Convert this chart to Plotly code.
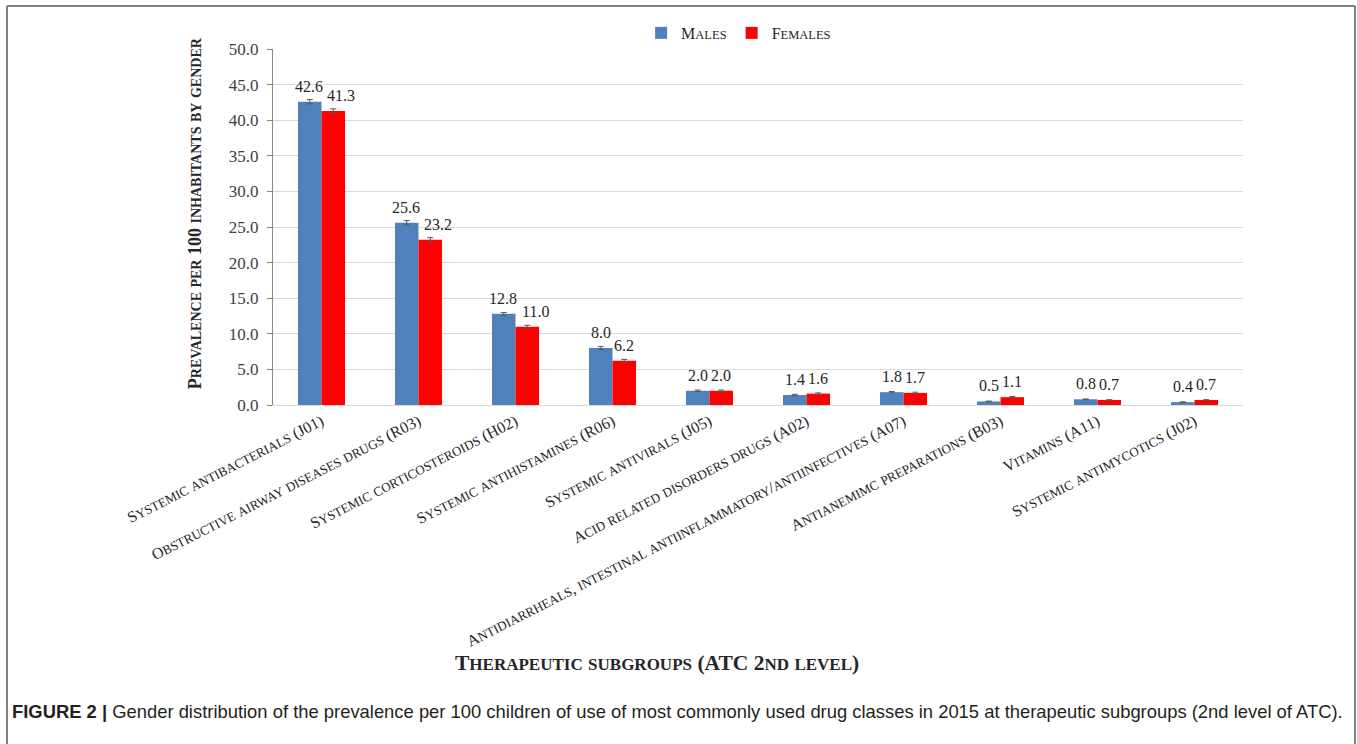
import plotly.graph_objects as go

categories = [
    "Systemic antibacterials (J01)",
    "Obstructive airway diseases drugs (R03)",
    "Systemic corticosteroids (H02)",
    "Systemic antihistamines (R06)",
    "Systemic antivirals (J05)",
    "Acid related disorders drugs (A02)",
    "Antidiarrheals, intestinal antiinflammatory/antiinfectives (A07)",
    "Antianemimc preparations (B03)",
    "Vitamins (A11)",
    "Systemic antimycotics (J02)",
]
males = [42.6, 25.6, 12.8, 8.0, 2.0, 1.4, 1.8, 0.5, 0.8, 0.4]
females = [41.3, 23.2, 11.0, 6.2, 2.0, 1.6, 1.7, 1.1, 0.7, 0.7]
males_err = [0.3, 0.3, 0.2, 0.2, 0.1, 0.1, 0.1, 0.05, 0.05, 0.05]
females_err = [0.3, 0.3, 0.2, 0.2, 0.1, 0.1, 0.1, 0.1, 0.05, 0.05]
y_ticks = [0, 5, 10, 15, 20, 25, 30, 35, 40, 45, 50]

SERIF = "Liberation Serif, Times New Roman, serif"
SANS = "Liberation Sans, Arial, sans-serif"

# layout constants
W, H = 1357, 744
ML, MR, MT, MB = 273, 114, 49, 339
BARGAP = 0.515
plot_w = W - ML - MR
cat_w = plot_w / len(categories)
bar_w = cat_w * (1 - BARGAP) / 2


def sc(s, small):
    out = []
    run = ""
    for ch in s:
        if ch.islower():
            run += ch.upper()
        else:
            if run:
                out.append(f'<span style="font-size:{small}px">{run}</span>')
                run = ""
            out.append(ch)
    if run:
        out.append(f'<span style="font-size:{small}px">{run}</span>')
    return "".join(out)


fig = go.Figure()
fig.add_trace(go.Bar(
    x=categories, y=males, name=sc("Males", 12.5),
    marker=dict(color="#4F81BD", line=dict(width=0)),
    error_y=dict(type="data", array=males_err, color="#595959", thickness=1, width=3),
))
fig.add_trace(go.Bar(
    x=categories, y=females, name=sc("Females", 12.5),
    marker=dict(color="#FF0000", line=dict(width=0)),
    error_y=dict(type="data", array=females_err, color="#595959", thickness=1, width=3),
))

# data labels
for c, m, f in zip(categories, males, females):
    lm, lf = f"{m:.1f}", f"{f:.1f}"
    crowded = max(len(lm), len(lf)) >= 4
    dm = -1 if crowded else 0
    df = 8 if crowded else 0
    fig.add_annotation(x=c, y=m, text=lm, showarrow=False, xanchor="center", yanchor="bottom",
                       xshift=-bar_w / 2 + dm, yshift=5,
                       font=dict(family=SERIF, size=16, color="#262626"))
    fig.add_annotation(x=c, y=f, text=lf, showarrow=False, xanchor="center", yanchor="bottom",
                       xshift=bar_w / 2 + df, yshift=5,
                       font=dict(family=SERIF, size=16, color="#262626"))

fig.update_layout(
    width=W, height=H,
    margin=dict(l=ML, r=MR, t=MT, b=MB, autoexpand=False),
    paper_bgcolor="white", plot_bgcolor="white",
    barmode="group", bargap=BARGAP, bargroupgap=0,
    font=dict(family=SERIF, color="#262626"),
    legend=dict(orientation="h", x=0.48, xanchor="center", y=1.045, yanchor="middle",
                font=dict(family=SERIF, size=16, color="#262626"), itemwidth=30,
                bgcolor="rgba(0,0,0,0)"),
    xaxis=dict(
        tickmode="array", tickvals=categories,
        ticktext=[sc(c, 13) for c in categories],
        tickangle=-27, tickfont=dict(family=SERIF, size=16, color="#262626"),
        showline=True, linecolor="#D9D9D9", linewidth=1, ticks="", showgrid=False,
    ),
    yaxis=dict(
        range=[0, 50], tickvals=y_ticks, tickformat=".1f",
        tickfont=dict(family=SERIF, size=17, color="#404040"),
        showgrid=True, gridcolor="#D9D9D9", gridwidth=1,
        showline=True, linecolor="#868686", linewidth=1,
        ticks="outside", ticklen=5, tickcolor="#868686", zeroline=False,
        ticklabelstandoff=5,
    ),
    showlegend=True,
)

# Axis titles
fig.add_annotation(
    text="<b>" + sc("Prevalence per 100 inhabitants by gender", 14) + "</b>",
    xref="paper", yref="paper", x=-0.0804, y=0.539, textangle=-90,
    showarrow=False, font=dict(family=SERIF, size=18, color="#262626"),
    xanchor="center", yanchor="middle",
)
fig.add_annotation(
    text="<b>" + sc("Therapeutic subgroups (ATC 2nd level)", 17) + "</b>",
    xref="paper", yref="paper", x=0.396, y=-0.725,
    showarrow=False, font=dict(family=SERIF, size=21.5, color="#262626"),
    xanchor="center", yanchor="middle",
)
# Caption
fig.add_annotation(
    text="<b>FIGURE 2 |</b> Gender distribution of the prevalence per 100 children of use of most commonly used drug classes in 2015 at therapeutic subgroups (2nd level of ATC).",
    xref="paper", yref="paper", x=-0.2711, y=-0.8596,
    showarrow=False, font=dict(family=SANS, size=18.4, color="#231F20"),
    xanchor="left", yanchor="middle",
)
# Frame
fx0 = (7 - ML) / plot_w
fx1 = (1355 - ML) / plot_w
fy1 = 1 + (MT - 6) / (H - MT - MB)
fig.add_shape(type="line", xref="paper", yref="paper", x0=fx0, x1=fx0, y0=-1.0, y1=fy1,
              line=dict(color="#7F7F7F", width=2))
fig.add_shape(type="line", xref="paper", yref="paper", x0=fx0, x1=fx1, y0=fy1, y1=fy1,
              line=dict(color="#7F7F7F", width=2))
fig.add_shape(type="line", xref="paper", yref="paper", x0=fx1, x1=fx1, y0=-1.0, y1=fy1,
              line=dict(color="#7F7F7F", width=2))

fig.write_html("out.html")
